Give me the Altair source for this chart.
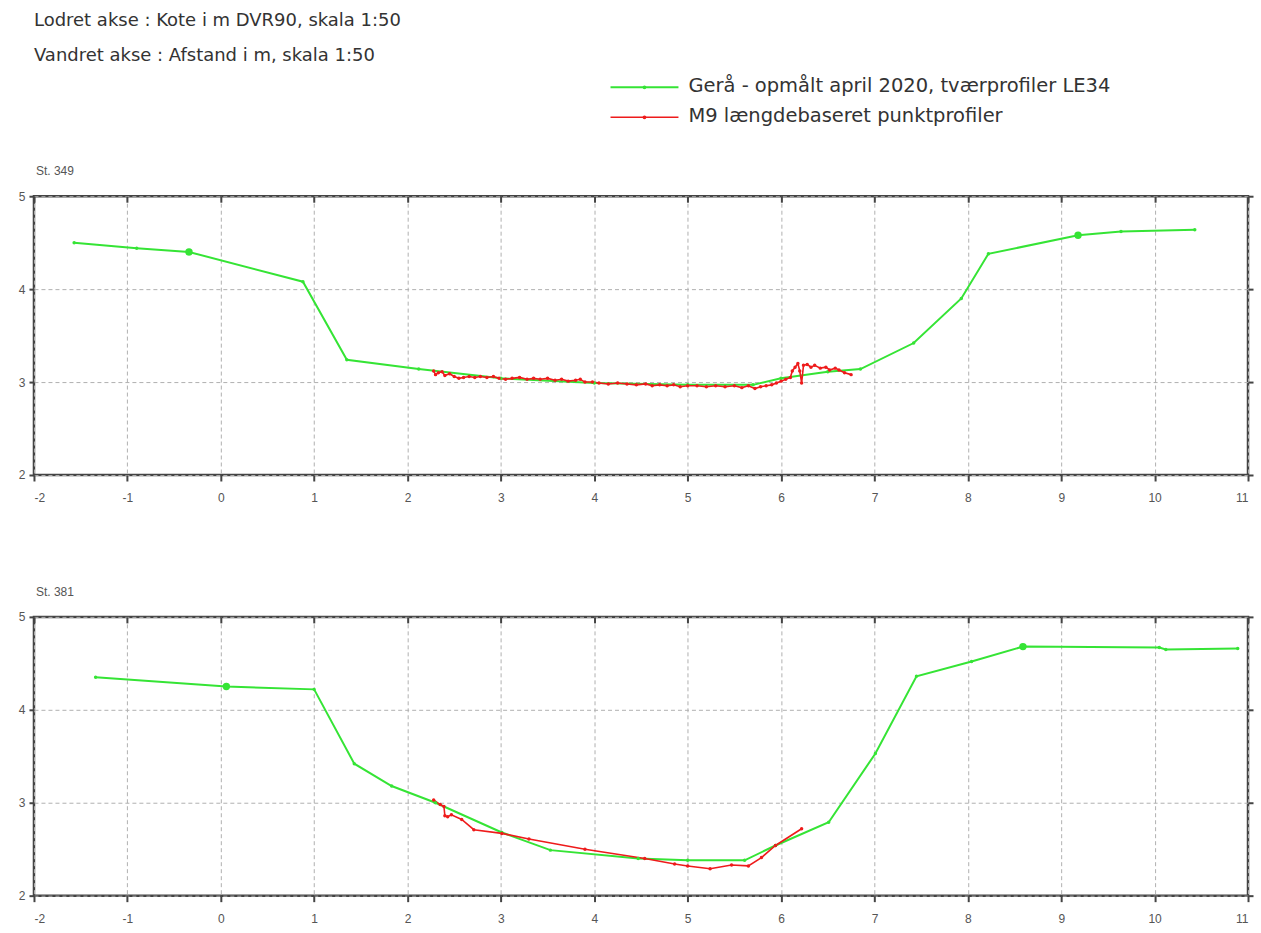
import altair as alt
import pandas as pd

# ---------------- data ----------------
# St. 349 - green cross-section profile (Gerå, April 2020, LE34)
g349_x = [-1.57, -0.90, -0.34, 0.88, 1.35, 2.12, 3.00, 4.00, 5.00, 5.70, 6.00, 6.50, 6.85, 7.42, 7.93, 8.22, 9.18, 9.64, 10.43]
g349_y = [4.50, 4.44, 4.40, 4.08, 3.24, 3.14, 3.04, 2.99, 2.97, 2.97, 3.04, 3.11, 3.14, 3.42, 3.90, 4.38, 4.58, 4.62, 4.64]
g349_big_x = [-0.34, 9.18]
g349_big_y = [4.40, 4.58]

# St. 349 - red point profile (M9 længdebaseret punktprofiler)
r349_x = [2.28, 2.30, 2.33, 2.37, 2.40, 2.45, 2.50, 2.55, 2.60, 2.66, 2.72, 2.78, 2.85, 2.92, 2.98,
          3.05, 3.12, 3.20, 3.28, 3.35, 3.42, 3.50, 3.58, 3.65, 3.72, 3.80, 3.85, 3.90, 3.98, 4.05,
          4.15, 4.25, 4.35, 4.45, 4.55, 4.62, 4.70, 4.78, 4.85, 4.92, 5.00, 5.10, 5.20, 5.30, 5.40,
          5.50, 5.58, 5.65, 5.72, 5.78, 5.84, 5.90, 5.95, 6.00, 6.05, 6.10, 6.12, 6.15, 6.18, 6.20,
          6.22, 6.24, 6.28, 6.32, 6.36, 6.42, 6.48, 6.52, 6.58, 6.62, 6.68, 6.75]
r349_y = [3.12, 3.08, 3.10, 3.11, 3.07, 3.09, 3.06, 3.04, 3.05, 3.06, 3.05, 3.06, 3.05, 3.06, 3.04,
          3.03, 3.04, 3.05, 3.03, 3.04, 3.03, 3.04, 3.02, 3.03, 3.01, 3.02, 3.03, 3.00, 3.00, 2.99,
          2.98, 2.99, 2.98, 2.97, 2.98, 2.96, 2.97, 2.96, 2.97, 2.95, 2.96, 2.96, 2.95, 2.96, 2.95,
          2.96, 2.94, 2.96, 2.93, 2.95, 2.96, 2.97, 2.99, 3.01, 3.03, 3.05, 3.12, 3.16, 3.20, 3.12,
          2.99, 3.18, 3.19, 3.16, 3.18, 3.15, 3.16, 3.13, 3.15, 3.13, 3.10, 3.08]

# St. 381 - green cross-section profile
g381_x = [-1.34, 0.06, 1.00, 1.43, 1.83, 2.30, 3.01, 3.53, 4.47, 5.00, 5.61, 5.94, 6.51, 7.01, 7.45, 8.04, 8.59, 10.05, 10.12, 10.89]
g381_y = [4.35, 4.25, 4.22, 3.42, 3.18, 3.00, 2.68, 2.49, 2.40, 2.38, 2.38, 2.54, 2.79, 3.53, 4.36, 4.52, 4.68, 4.67, 4.65, 4.66]
g381_big_x = [0.06, 8.59]
g381_big_y = [4.25, 4.68]

# St. 381 - red point profile
r381_x = [2.28, 2.35, 2.39, 2.40, 2.43, 2.47, 2.58, 2.71, 3.01, 3.30, 3.90, 4.54, 4.86, 5.00, 5.24, 5.47, 5.65, 5.79, 5.94, 6.22]
r381_y = [3.03, 2.98, 2.96, 2.86, 2.85, 2.87, 2.82, 2.71, 2.67, 2.61, 2.50, 2.40, 2.34, 2.32, 2.29, 2.33, 2.32, 2.41, 2.54, 2.72]

x_ticks = list(range(-2, 12))
y_ticks = [2, 3, 4, 5]

header_lines = ["Lodret akse : Kote i m DVR90, skala 1:50",
                "Vandret akse : Afstand i m,  skala 1:50"]
legend_labels = ["Gerå - opmålt april 2020, tværprofiler LE34",
                 "M9 længdebaseret punktprofiler"]
panel_titles = ["St. 349", "St. 381"]

GREEN = "#35e435"
RED = "#ee1b1b"
FONT = "Liberation Sans"
HFONT = "DejaVu Sans"
W, H = 1215, 279
LABEL_EXPR = "'' + datum.value"


def panel(title, gx, gy, bx, by, rx, ry):
    g = pd.DataFrame({"x": gx, "y": gy, "i": list(range(len(gx)))})
    r = pd.DataFrame({"x": rx, "y": ry, "i": list(range(len(rx)))})
    b = pd.DataFrame({"x": bx, "y": by})
    xs = alt.Scale(domain=[-2, 11], nice=False, zero=False)
    ys = alt.Scale(domain=[2, 5], nice=False, zero=False)

    ax_bottom = alt.Axis(orient="bottom", values=x_ticks, labelExpr=LABEL_EXPR, grid=True, domain=False,
                         tickSize=6, tickWidth=2, tickColor="#444", labelPadding=12,
                         labelFontSize=12, labelColor="#555", labelFont=FONT,
                         gridDash=[4, 3], gridColor="#b0b0b0", gridWidth=1)
    ay_left = alt.Axis(orient="left", values=y_ticks, labelExpr=LABEL_EXPR, grid=True, domain=False,
                       tickSize=5, tickWidth=2, tickColor="#444", labelPadding=4,
                       labelFontSize=12, labelColor="#555", labelFont=FONT,
                       gridDash=[4, 3], gridColor="#b0b0b0", gridWidth=1)
    ax_top = alt.Axis(orient="top", values=x_ticks, labels=False, grid=False, domain=False,
                      tickSize=6, tickWidth=2, tickColor="#444", offset=-6)
    ay_right = alt.Axis(orient="right", values=y_ticks, labels=False, grid=False, domain=False,
                        tickSize=5, tickWidth=2, tickColor="#444")

    green_line = alt.Chart(g).mark_line(color=GREEN, strokeWidth=2).encode(
        x=alt.X("x:Q", scale=xs, axis=ax_bottom, title=None),
        y=alt.Y("y:Q", scale=ys, axis=ay_left, title=None),
        order="i:Q")
    red_line = alt.Chart(r).mark_line(color=RED, strokeWidth=1.6).encode(
        x=alt.X("x:Q", scale=xs, axis=ax_top, title=None),
        y=alt.Y("y:Q", scale=ys, axis=ay_right, title=None),
        order="i:Q")
    green_pts = alt.Chart(g).mark_point(filled=True, size=12, color=GREEN, opacity=1).encode(
        x=alt.X("x:Q", scale=xs, axis=None), y=alt.Y("y:Q", scale=ys, axis=None))
    big_pts = alt.Chart(b).mark_point(filled=True, size=55, color=GREEN, opacity=1).encode(
        x=alt.X("x:Q", scale=xs, axis=None), y=alt.Y("y:Q", scale=ys, axis=None))
    red_pts = alt.Chart(r).mark_point(filled=True, size=12, color=RED, opacity=1).encode(
        x=alt.X("x:Q", scale=xs, axis=None), y=alt.Y("y:Q", scale=ys, axis=None))

    return alt.layer(green_line, red_line, green_pts, big_pts, red_pts).resolve_axis(
        x="independent", y="independent"
    ).properties(
        width=W, height=H,
        title=alt.TitleParams(title, anchor="start", frame="group", fontSize=12, color="#555",
                              font=FONT, fontWeight="normal", offset=12, dx=2)
    )


# ---------------- header (axis notes + legend) ----------------
HH = 117

def text_layer(t, x, y, size):
    return alt.Chart(pd.DataFrame({"t": [t]})).mark_text(
        align="left", baseline="middle", fontSize=size, font=HFONT, color="#333").encode(
        x=alt.value(x), y=alt.value(y), text="t:N")

txt1 = text_layer(header_lines[0], 0, 21, 18)
txt2 = text_layer(header_lines[1], 0, 56, 18)

leg_g_line = alt.Chart(pd.DataFrame({"a": [0]})).mark_rule(color=GREEN, strokeWidth=2).encode(
    x=alt.value(577), x2=alt.value(645), y=alt.value(87))
leg_g_dot = alt.Chart(pd.DataFrame({"a": [0]})).mark_point(filled=True, size=14, color=GREEN, opacity=1).encode(
    x=alt.value(611), y=alt.value(87))
leg_r_line = alt.Chart(pd.DataFrame({"a": [0]})).mark_rule(color=RED, strokeWidth=1.6).encode(
    x=alt.value(577), x2=alt.value(645), y=alt.value(117))
leg_r_dot = alt.Chart(pd.DataFrame({"a": [0]})).mark_point(filled=True, size=14, color=RED, opacity=1).encode(
    x=alt.value(611), y=alt.value(117))
leg_t1 = text_layer(legend_labels[0], 655, 86, 19.5)
leg_t2 = text_layer(legend_labels[1], 655, 116, 19.5)

header = alt.layer(txt1, txt2, leg_g_line, leg_g_dot, leg_r_line, leg_r_dot, leg_t1, leg_t2).properties(
    width=W, height=HH, view=alt.ViewConfig(stroke=None))

p1 = panel(panel_titles[0], g349_x, g349_y, g349_big_x, g349_big_y, r349_x, r349_y)
p2 = panel(panel_titles[1], g381_x, g381_y, g381_big_x, g381_big_y, r381_x, r381_y)

panels = alt.vconcat(p1, p2, spacing=78)

chart = alt.vconcat(header, panels, spacing=37).properties(
    padding={"left": 17, "top": 0, "right": 5, "bottom": 5},
    background="white"
).configure_view(stroke="#444", strokeWidth=2.5)

chart.save("out.html", embed_options={"renderer": "svg", "actions": False})
